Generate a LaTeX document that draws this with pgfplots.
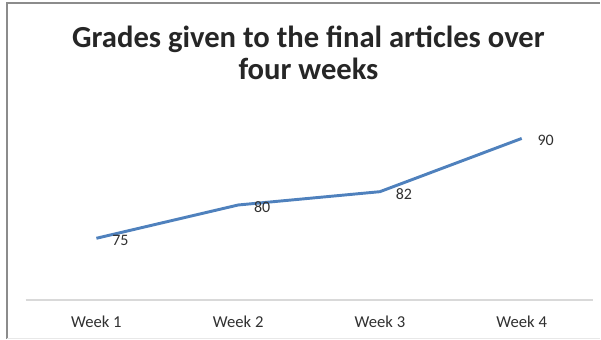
\documentclass[border=0pt]{standalone}
\usepackage{pgfplots}
\pgfplotsset{compat=1.18}
\usepackage{fontspec}
\setmainfont{Carlito}
\definecolor{linecol}{HTML}{4F81BD}
\definecolor{axcol}{HTML}{D9D9D9}
\definecolor{framecol}{HTML}{8C8C8C}
\definecolor{txt}{HTML}{262626}
\definecolor{lbl}{HTML}{303030}
\begin{document}
\begin{tikzpicture}[x=0.75pt,y=0.75pt]
\path (0,0) rectangle (601,340);
\draw[framecol,line width=1.5pt] (7,0.5) -- (7,336.5) -- (601,336.5);
\draw[axcol!60,line width=0.6pt] (7,1.5) -- (601,1.5);
\node[align=center,font=\bfseries\fontsize{23}{24}\selectfont,text=txt] at (309,287) {Grades given to the final articles over\\four weeks};
\begin{axis}[
  at={(18,59)}, anchor=south west,
  scale only axis, width=426pt, height=157.5pt,
  xmin=-0.5, xmax=3.5, ymin=65.7, ymax=97.2,
  axis y line=none,
  axis x line*=bottom,
  x axis line style={axcol,line width=1.5pt,-},
  xtick=data, xticklabels={Week 1,Week 2,Week 3,Week 4},
  major tick length=0pt,
  /pgf/number format/assume math mode=true,
  xticklabel style={font=\fontsize{12.5}{14}\selectfont,text=lbl,yshift=-8.5pt},
  clip=false,
  nodes near coords,
  nodes near coords style={font=\fontsize{12}{13}\selectfont,text=lbl,anchor=west,xshift=7.5pt,yshift=-1.5pt},
]
\addplot[linecol,line width=2.2pt,mark=none] coordinates {(0,75) (1,80) (2,82) (3,90)};
\end{axis}
\end{tikzpicture}
\end{document}
